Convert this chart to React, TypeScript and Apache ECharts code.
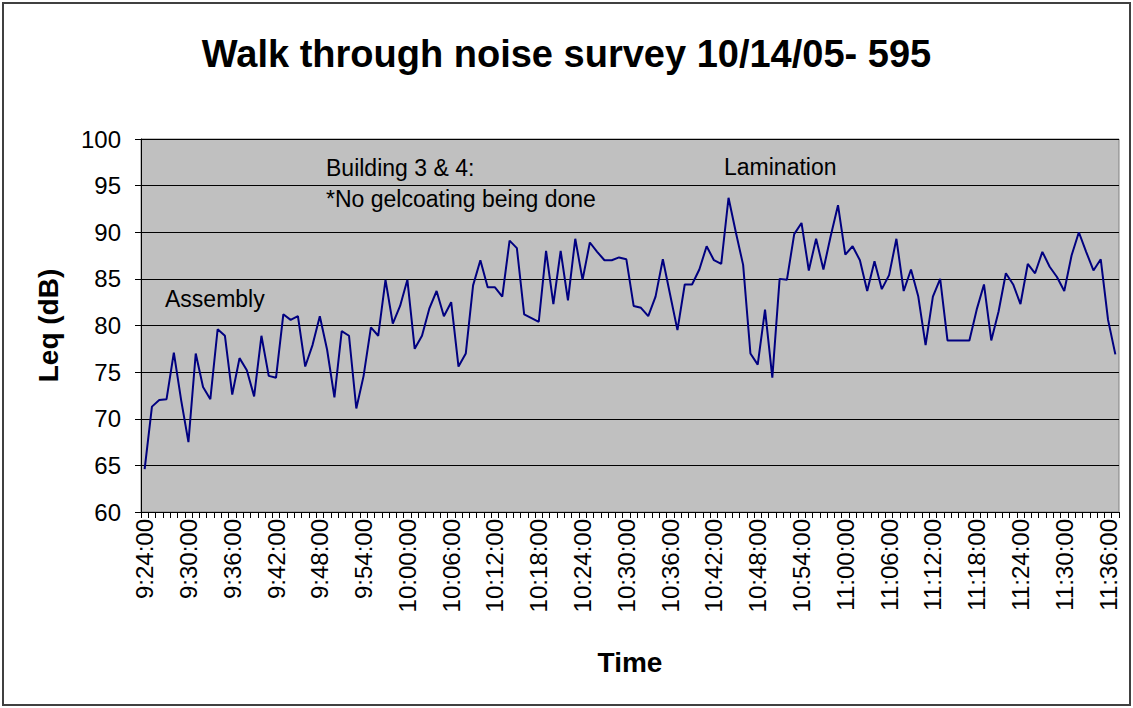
import React, { useEffect, useRef } from "react";
import * as echarts from "echarts";

const TITLE = "Walk through noise survey 10/14/05- 595";
const START_HOUR = 9;
const START_MIN = 24;
const LEQ: number[] = [
  64.6, 71.3, 72.0, 72.1, 77.1, 72.0, 67.5, 77.0, 73.4, 72.1, 79.6, 78.9, 72.6, 76.5, 75.2, 72.4, 78.9, 74.6, 74.4, 81.2, 80.6, 81.0, 75.6,
  77.9, 81.0, 77.4, 72.3, 79.4, 78.9, 71.1, 74.6, 79.8, 78.9, 84.9, 80.2, 82.1, 84.9, 77.5, 78.9, 81.8, 83.7, 81.0, 82.5, 75.6, 77.0, 84.3, 87.0,
  84.1, 84.1, 83.1, 89.1, 88.3, 81.2, 80.8, 80.4, 88.0, 82.3, 88.0, 82.7, 89.3, 84.9, 88.9, 87.9, 87.0, 87.0, 87.3, 87.1, 82.1, 81.9, 81.0,
  83.1, 87.1, 83.3, 79.5, 84.4, 84.4, 86.0, 88.5, 87.0, 86.6, 93.7, 90.0, 86.5, 77.0, 75.8, 81.7, 74.4, 85.0, 84.9, 89.8, 91.0, 85.9, 89.3, 86.0,
  89.6, 92.9, 87.6, 88.5, 87.0, 83.7, 86.9, 83.9, 85.4, 89.3, 83.7, 86.0, 83.1, 77.9, 83.1, 85.0, 78.4, 78.4, 78.4, 78.4, 81.7, 84.4, 78.4,
  81.5, 85.6, 84.4, 82.3, 86.6, 85.6, 87.9, 86.3, 85.2, 83.7, 87.5, 90.0, 87.9, 85.9, 87.1, 80.6, 76.9,
];
const TIMES: string[] = LEQ.map((_, i) => {
  const t = START_HOUR * 60 + START_MIN + i;
  const h = Math.floor(t / 60);
  const m = t % 60;
  return `${h}:${m < 10 ? "0" : ""}${m}:00`;
});
const Y_TICKS = { min: 60, max: 100, interval: 5 };
const NOTES = [
  { text: "Assembly", x: 165, y: 299 },
  { text: "Building 3 & 4:", x: 326, y: 168 },
  { text: "*No gelcoating being done", x: 326, y: 199 },
  { text: "Lamination", x: 724, y: 167 },
];

const FONT = "'Liberation Sans', Arial, sans-serif";

export default function App() {
  const ref = useRef<HTMLDivElement>(null);
  useEffect(() => {
    if (!ref.current) return;
    const chart = echarts.init(ref.current, null, { renderer: "svg" });
    chart.setOption({
      animation: false,
      backgroundColor: "#ffffff",
      textStyle: { fontFamily: FONT },
      title: {
        text: TITLE,
        left: "center",
        top: 30,
        textStyle: { fontFamily: FONT, fontSize: 38, fontWeight: "bold", color: "#000" },
      },
      grid: { left: 141, right: 14, top: 139, bottom: 196, show: true, backgroundColor: "#C0C0C0", borderColor: "#808080", borderWidth: 1 },
      xAxis: {
        type: "category",
        data: TIMES,
        boundaryGap: true,
        name: "Time",
        nameLocation: "middle",
        nameGap: 136,
        nameTextStyle: { fontFamily: FONT, fontSize: 28, fontWeight: "bold", color: "#000" },
        axisLine: { lineStyle: { color: "#000", width: 1 } },
        axisTick: { show: true, interval: 0, length: 6, lineStyle: { color: "#000" } },
        axisLabel: { interval: 5, rotate: 90, fontSize: 24, color: "#000", margin: 7, fontFamily: FONT },
        splitLine: { show: false },
      },
      yAxis: {
        type: "value",
        min: Y_TICKS.min,
        max: Y_TICKS.max,
        interval: Y_TICKS.interval,
        name: "Leq (dB)",
        nameLocation: "middle",
        nameGap: 79,
        nameTextStyle: { fontFamily: FONT, fontSize: 28, fontWeight: "bold", color: "#000" },
        axisLine: { show: true, lineStyle: { color: "#000", width: 1 } },
        axisTick: { show: true, length: 6, lineStyle: { color: "#000" } },
        axisLabel: { fontSize: 24, color: "#000", margin: 20, fontFamily: FONT },
        splitLine: { show: true, lineStyle: { color: "#000", width: 1 } },
      },
      series: [
        {
          type: "line",
          data: LEQ,
          showSymbol: false,
          symbol: "none",
          lineStyle: { color: "#000080", width: 2 },
        },
      ],
      graphic: [
        {
          type: "rect",
          shape: { x: 3, y: 3, width: 1127, height: 702 },
          style: { fill: "none", stroke: "#404040", lineWidth: 2 },
          z: 100,
        },
        ...NOTES.map((n) => ({
          type: "text",
          x: n.x,
          y: n.y,
          style: { text: n.text, fontSize: 23, fontFamily: FONT, fill: "#000", verticalAlign: "middle" },
          z: 100,
        })),
      ],
    });
    return () => chart.dispose();
  }, []);
  return <div ref={ref} style={{ position: "fixed", left: 0, top: 0, width: 1133, height: 708 }} />;
}
